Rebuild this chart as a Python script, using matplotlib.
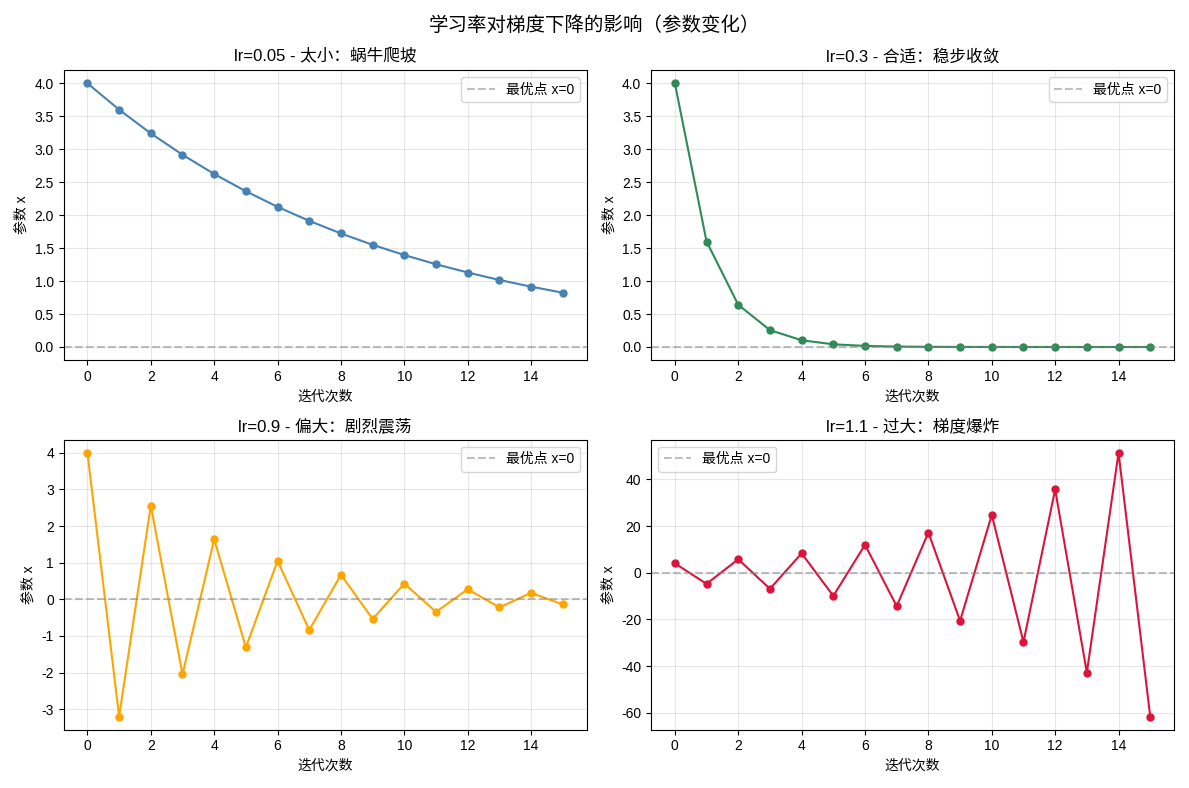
import matplotlib
matplotlib.use("Agg")
import matplotlib.pyplot as plt

plt.rcParams['font.family'] = ['Liberation Sans', 'Noto Sans CJK SC', 'DejaVu Sans']
plt.rcParams['axes.unicode_minus'] = False

steps = list(range(16))

# 参数 x 每次迭代的值
x_lr005 = [4.0, 3.6, 3.24, 2.916, 2.6244, 2.362, 2.1258, 1.9132, 1.7219, 1.5497,
           1.3947, 1.2552, 1.1297, 1.0167, 0.9151, 0.8236]
x_lr03 = [4.0, 1.6, 0.64, 0.256, 0.1024, 0.041, 0.0164, 0.0066, 0.0026, 0.001,
          0.0004, 0.0002, 0.0001, 0.0, 0.0, 0.0]
x_lr09 = [4.0, -3.2, 2.56, -2.048, 1.6384, -1.3107, 1.0486, -0.8389, 0.6711, -0.5369,
          0.4295, -0.3436, 0.2749, -0.2199, 0.1759, -0.1407]
x_lr11 = [4.0, -4.8, 5.76, -6.912, 8.2944, -9.9533, 11.944, -14.333, 17.199, -20.639,
          24.767, -29.72, 35.664, -42.797, 51.357, -61.628]

titles = ['lr=0.05 - 太小：蜗牛爬坡', 'lr=0.3 - 合适：稳步收敛',
          'lr=0.9 - 偏大：剧烈震荡', 'lr=1.1 - 过大：梯度爆炸']
series = [x_lr005, x_lr03, x_lr09, x_lr11]
colors = ['steelblue', 'seagreen', 'orange', 'crimson']

fig, axes = plt.subplots(2, 2, figsize=(11.89, 7.88), dpi=100)
fig.suptitle('学习率对梯度下降的影响（参数变化）', fontsize=14)

for ax, ys, c, t in zip(axes.flat, series, colors, titles):
    ax.plot(steps, ys, 'o-', color=c, markersize=5)
    ax.axhline(0, color='gray', linestyle='--', alpha=0.5, label='最优点 x=0')
    ax.set_title(t, fontsize=12)
    ax.set_xlabel('迭代次数')
    ax.set_ylabel('参数 x')
    ax.grid(True, alpha=0.3)
    ax.legend()

plt.tight_layout()
plt.savefig('out.png')
